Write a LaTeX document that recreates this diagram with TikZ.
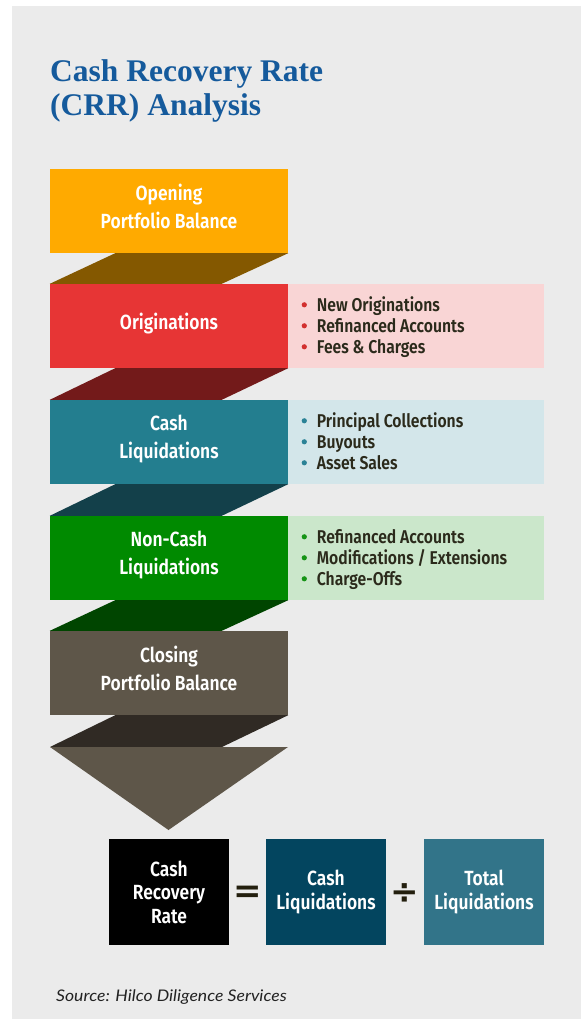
\documentclass[tikz,border=0pt]{standalone}
\usepackage{fontspec}
\setmainfont{Liberation Serif}
\newfontfamily\labelfont{Fira Sans}[UprightFont=* SemiBold, FakeStretch=0.85]
\newfontfamily\notefont{Lato}[FakeStretch=1.1]
\newfontfamily\symfont{DejaVu Sans}
\usetikzlibrary{calc}

\definecolor{panelgrey}{HTML}{EBEBEB}
\definecolor{titleblue}{HTML}{155A9C}
\definecolor{ink}{HTML}{2B2A1B}
\definecolor{notegrey}{HTML}{222222}
\definecolor{cOpen}{HTML}{FFAA00}
\definecolor{cOpenD}{HTML}{845800}
\definecolor{cOrig}{HTML}{E73535}
\definecolor{cOrigD}{HTML}{731A1A}
\definecolor{cOrigL}{HTML}{F9D5D5}
\definecolor{cOrigB}{HTML}{D2302F}
\definecolor{cCash}{HTML}{237E8F}
\definecolor{cCashD}{HTML}{13404A}
\definecolor{cCashL}{HTML}{D3E6EA}
\definecolor{cCashB}{HTML}{2A8296}
\definecolor{cNon}{HTML}{008A00}
\definecolor{cNonD}{HTML}{004500}
\definecolor{cNonL}{HTML}{CBE7CB}
\definecolor{cNonB}{HTML}{169416}
\definecolor{cClose}{HTML}{5E5649}
\definecolor{cCloseD}{HTML}{302A24}
\definecolor{cLiqBox}{HTML}{03455F}
\definecolor{cTotBox}{HTML}{327489}
\definecolor{symink}{HTML}{231F0E}

% folded band joining the bottom of one stage to the top of the next
\newcommand\foldband[3]{%
  \fill[#3] ($(#1.south east)+(-173,0)$) -- (#1.south east)
    -- ($(#2)+(172,0)$) -- (#2) -- cycle;}
% coloured bullet in front of a list item
\newcommand\itemdot[2]{\fill[#2] ($(#1.base west)+(-12.4,-6.2)$) circle (2.6);}

\begin{document}
\begin{tikzpicture}[x=1pt,y=-1pt,
  stage/.style={rectangle, minimum width=238pt, minimum height=84pt,
    inner sep=0pt},
  stagetext/.style={inner sep=0pt, text=white, align=center,
    font=\labelfont\fontsize{20.5}{27.3}\selectfont},
  detail/.style={rectangle, minimum width=256pt, minimum height=84pt,
    inner sep=0pt, anchor=west},
  listitem/.style={anchor=base west, inner sep=0pt, text=ink,
    font=\labelfont\fontsize{18.5}{21}\selectfont},
  result/.style={rectangle, minimum width=120pt, minimum height=106pt,
    inner sep=0pt, text=white, align=center,
    font=\labelfont\fontsize{20.5}{23.5}\selectfont},
  operator/.style={inner sep=0pt, text=symink,
    font=\symfont\bfseries\fontsize{34}{34}\selectfont},
  heading/.style={anchor=base west, inner sep=0pt, text=titleblue,
    font=\bfseries\fontsize{31.5}{34}\selectfont}]

\useasboundingbox (0,0) rectangle (581,1019);
\fill[white] (0,0) rectangle (581,1019);
\fill[panelgrey] (12,6) rectangle (581,1019);

% heading
\node[heading] (t1) at (50,82) {Cash Recovery Rate};
\node[heading] (t2) at (50,116) {(CRR) Analysis};

% stages of the portfolio roll-forward
\node[stage, fill=cOpen]  (open)  at (169,211) {};
\node[stage, fill=cOrig]  (orig)  at (169,326) {};
\node[stage, fill=cCash]  (cash)  at (169,442) {};
\node[stage, fill=cNon]   (non)   at (169,558) {};
\node[stage, fill=cClose] (close) at (169,673) {};

\node[stagetext] (openT)  at ($(open)+(0,-4.5)$)  {Opening\\Portfolio Balance};
\node[stagetext] (origT)  at ($(orig)+(0,-2)$)    {Originations};
\node[stagetext] (cashT)  at ($(cash)+(0,-3)$)    {Cash\\Liquidations};
\node[stagetext] (nonT)   at ($(non)+(0,-3)$)     {Non-Cash\\Liquidations};
\node[stagetext] (closeT) at ($(close)+(0,-4.5)$) {Closing\\Portfolio Balance};

\foldband{open}{orig.north west}{cOpenD}
\foldband{orig}{cash.north west}{cOrigD}
\foldband{cash}{non.north west}{cCashD}
\foldband{non}{close.north west}{cNonD}

% closing arrow head
\coordinate (vl) at (50,747);
\coordinate (vr) at (288,747);
\coordinate (tip) at (168.5,830);
\foldband{close}{vl}{cCloseD}
\fill[cClose] (vl) -- (vr) -- (tip) -- cycle;

% detail panels
\node[detail, fill=cOrigL] (origD) at (orig.east) {};
\node[detail, fill=cCashL] (cashD) at (cash.east) {};
\node[detail, fill=cNonL]  (nonD)  at (non.east) {};

\node[listitem] (o1) at (316.7,311) {New Originations};
\node[listitem] (o2) at (316.7,332) {Refinanced Accounts};
\node[listitem] (o3) at (316.7,353) {Fees \& Charges};
\itemdot{o1}{cOrigB}\itemdot{o2}{cOrigB}\itemdot{o3}{cOrigB}

\node[listitem] (c1) at (316.7,427) {Principal Collections};
\node[listitem] (c2) at (316.7,448) {Buyouts};
\node[listitem] (c3) at (316.7,469) {Asset Sales};
\itemdot{c1}{cCashB}\itemdot{c2}{cCashB}\itemdot{c3}{cCashB}

\node[listitem] (n1) at (316.7,543) {Refinanced Accounts};
\node[listitem] (n2) at (316.7,564) {Modifications / Extensions};
\node[listitem] (n3) at (316.7,585) {Charge-Offs};
\itemdot{n1}{cNonB}\itemdot{n2}{cNonB}\itemdot{n3}{cNonB}

% ratio definition
\node[result, fill=black]   (crr) at (169,892) {Cash\\Recovery\\Rate};
\node[result, fill=cLiqBox] (cl)  at (326,892) {Cash\\Liquidations};
\node[result, fill=cTotBox] (tl)  at (484,892) {Total\\Liquidations};
\node[operator] (eq)  at ($(crr.east)!0.5!(cl.west)+(0,2)$) {=};
\node[operator] (div) at ($(cl.east)!0.5!(tl.west)+(0,2)$) {÷};

% source line
\node[anchor=base west, inner sep=0pt, text=notegrey,
  font=\notefont\itshape\fontsize{16}{18}\selectfont] (src) at (56,1001.7)
  {Source: Hilco Diligence Services};
\end{tikzpicture}
\end{document}
